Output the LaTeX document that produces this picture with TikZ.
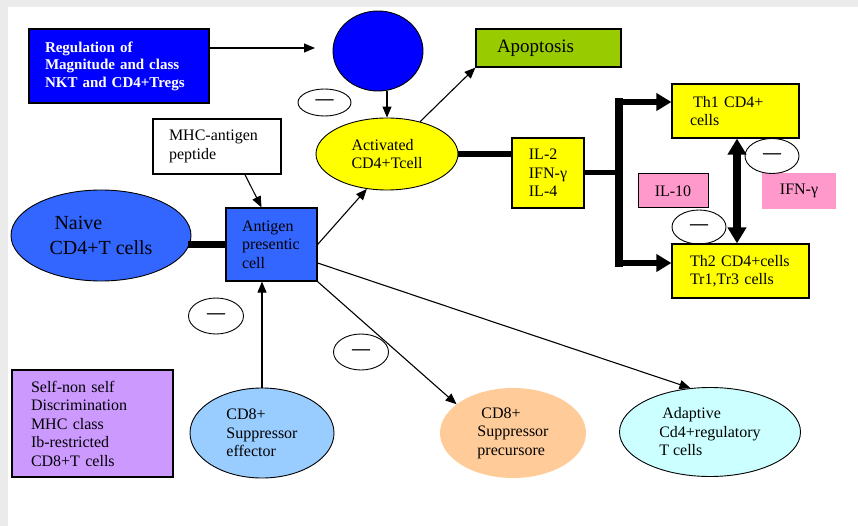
\documentclass[tikz,border=0pt]{standalone}
\usepackage{fontspec}
\setmainfont{Liberation Serif}
\usetikzlibrary{shapes.geometric,arrows.meta}
\definecolor{bggray}{HTML}{EBEBEB}
\definecolor{pureblue}{HTML}{0000FF}
\definecolor{midblue}{HTML}{3366FF}
\definecolor{yel}{HTML}{FFFF00}
\definecolor{apogreen}{HTML}{99CC00}
\definecolor{pinkc}{HTML}{FF99CC}
\definecolor{purplec}{HTML}{CC99FF}
\definecolor{skyc}{HTML}{99CCFF}
\definecolor{peachc}{HTML}{FFCC99}
\definecolor{cyanc}{HTML}{CCFFFF}
\begin{document}
\begin{tikzpicture}[x=1pt,y=-1pt,
  every node/.style={font=\fontsize{16}{18.5}\selectfont},
  box/.style={draw, rectangle, line width=1.2pt, inner ysep=0pt, align=left},
  ell/.style={draw, ellipse, line width=0.9pt, inner sep=0pt, align=left},
  minus/.style={draw, ellipse, line width=0.9pt, inner sep=0pt, font=\fontsize{18}{18}\selectfont\bfseries},
  arr/.style={line width=1.1pt, -{Triangle[length=11pt,width=9pt]}},
  thickarr/.style={line width=6pt, -{Triangle[length=15pt,width=17pt]}}
]
\useasboundingbox (0,0) rectangle (858,526);
\fill[bggray] (0,0) rectangle (858,526);
\fill[white] (8,7) rectangle (858,526);

% nodes
\node[box, fill=pureblue, text=white, minimum height=74, text width=148, inner xsep=16,
      font=\fontsize{15}{17.5}\selectfont\bfseries] (reg) at (119,66)
  {Regulation of\\Magnitude and class\\NKT and CD4+Tregs};
\node[ell, fill=pureblue, minimum width=90, minimum height=80] (bluec) at (378,51) {};
\node[minus, minimum width=53, minimum height=27] (m1) at (324.5,102.5) {—};
\node[ell, fill=yel, minimum width=142, minimum height=72] (act) at (387,154)
  {Activated\\CD4+Tcell};
\node[box, fill=apogreen, minimum height=38, text width=103, inner xsep=21,
      font=\fontsize{19}{22}\selectfont] (apo) at (548.5,48) {Apoptosis};
\node[box, fill=yel, minimum width=72, minimum height=70] (il) at (548,173)
  {IL-2\\IFN-γ\\IL-4};
\node[box, fill=yel, minimum height=54, text width=91, inner xsep=18] (th1) at (735.5,111)
  {\hspace*{3pt}Th1 CD4+\\cells};
\node[box, fill=yel, minimum height=54, text width=101, inner xsep=18] (th2) at (740.5,271)
  {Th2 CD4+cells\\Tr1,Tr3 cells};
\node[box, line width=1pt, fill=pinkc, minimum width=70, minimum height=34] (il10) at (673,191) {IL-10};
\node[rectangle, fill=pinkc, minimum width=74, minimum height=36, inner sep=0pt] (ifn) at (799,191) {IFN-γ};
\node[minus, minimum width=54, minimum height=35] (m2) at (772,156) {—};
\node[minus, minimum width=54, minimum height=34] (m3) at (699,227) {—};
\node[ell, fill=midblue, minimum width=180, minimum height=91,
      font=\fontsize{20}{25}\selectfont] (naive) at (101,235.5)
  {\hspace*{5pt}Naive\\CD4+T cells};
\node[box, fill=midblue, minimum height=73, text width=59, inner xsep=16] (apc) at (271.5,244.5)
  {Antigen\\presentic\\cell};
\node[box, fill=white, minimum height=55, text width=96, inner xsep=16] (mhc) at (217,146.5)
  {MHC-antigen\\peptide};
\node[minus, minimum width=55, minimum height=36] (m4) at (216,316) {—};
\node[minus, minimum width=55, minimum height=36] (m5) at (361,352) {—};
\node[ell, fill=skyc, minimum width=144, minimum height=90] (cd8e) at (262,433)
  {CD8+\\Suppressor\\effector};
\node[box, fill=purplec, minimum height=107, text width=123, inner xsep=19] (self) at (92.5,423.5)
  {Self-non self\\Discrimination\\MHC class\\Ib-restricted\\CD8+T cells};
\node[ellipse, fill=peachc, inner sep=0pt, align=left, minimum width=146, minimum height=90] (cd8p) at (513,433)
  {\hspace*{4pt}CD8+\\Suppressor\\precursore};
\node[ell, fill=cyanc, minimum width=181, minimum height=89] (adap) at (710,432)
  {\hspace*{3pt}Adaptive\\Cd4+regulatory\\T cells};

% coordinates
\coordinate (ra) at (315,48);
\coordinate (jt) at (619,102);
\coordinate (jb) at (619,263);
\coordinate (dx) at (737,0);

% connectors
\draw[arr] (reg.east |- ra) -- (ra);
\draw[arr] (act.north |- bluec.south) -- (act.north);
\draw[arr] (act) -- (apo.south west);
\draw[line width=6pt] (act.east) -- (act.east -| il.west);
\draw[line width=5pt] (il.east) -- (il.east -| jt);
\draw[line width=8pt, line cap=rect] (jt) -- (jb);
\draw[thickarr] (jt) -- (th1.west |- jt);
\draw[thickarr] (jb) -- (th2.west |- jb);
\draw[line width=8pt, {Triangle[length=16pt,width=18pt]}-{Triangle[length=16pt,width=18pt]}]
  (th1.south -| dx) -- (th2.north -| dx);
\draw[line width=7pt, shorten <=-3pt] (naive.east |- apc.west) -- (apc.west);
\draw[arr] ([xshift=28pt]mhc.south) -- ([xshift=-10pt]apc.north);
\draw[arr] (apc.east) -- (act.240);
\draw[arr] (cd8e.north) -- (cd8e.north |- apc.south);
\draw[arr] (apc.south east) -- (cd8p.153);
\draw[arr] ([yshift=-18.5pt]apc.east) -- (adap.114);
\end{tikzpicture}
\end{document}
